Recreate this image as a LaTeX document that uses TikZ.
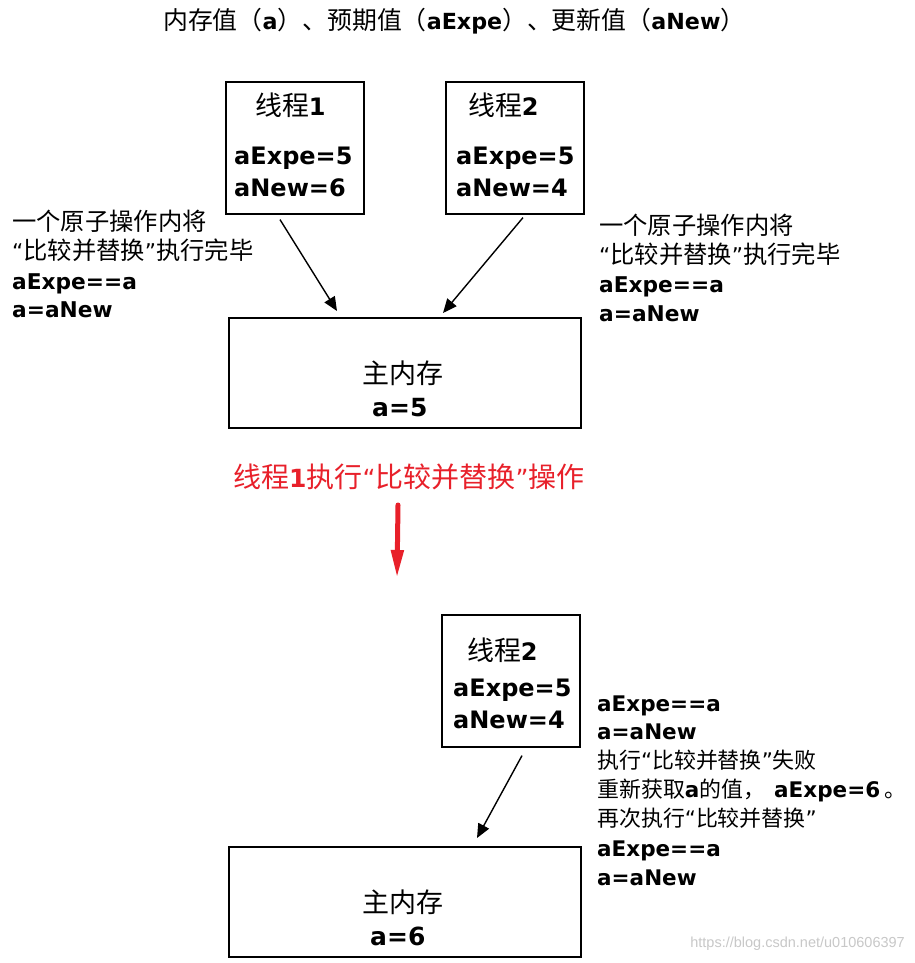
\documentclass[tikz,border=0pt]{standalone}
\usepackage{fontspec}
\setmainfont{DejaVu Sans}
\newfontfamily\cjk[Scale=1.12]{Noto Sans CJK SC}
\newfontfamily\cjkb[Scale=1.02]{Noto Sans CJK SC}
\newfontfamily\cjkc[Scale=1.08]{Noto Sans CJK SC}
\newfontfamily\wmfont{Liberation Sans}
\usetikzlibrary{arrows.meta,calc}
\newcommand\zh[1]{{\cjk #1}}
\newcommand\zhb[1]{{\cjkb #1}}
\definecolor{cred}{RGB}{232,32,42}
\definecolor{wmgray}{RGB}{200,200,200}
\begin{document}
\begin{tikzpicture}[x=1pt,y=-1pt,
  box/.style={draw, line width=1.6pt, inner sep=0pt, anchor=north west},
  lbl/.style={anchor=base west, inner sep=0pt, yshift=-8pt},
  side/.style={lbl, font=\fontsize{21.7}{26}\selectfont},
  sideb/.style={lbl, font=\fontsize{21.5}{26}\selectfont},
  inbox/.style={lbl, font=\fontsize{24}{28}\selectfont, yshift=-1pt},
  big/.style={lbl, font=\fontsize{25}{28}\selectfont, yshift=-1.5pt},
  arr/.style={-{Triangle[length=14pt,width=12pt]}, line width=1.4pt},
  redarr/.style={-{Triangle[length=28pt,width=12pt]}, line width=5pt, cred, line cap=round}
]
\useasboundingbox (0,0) rectangle (914,963);
\fill[white] (0,0) rectangle (914,963);

% title
\node[lbl, font=\fontsize{22.2}{26}\selectfont] (title) at (163,22) {\zh{内存值（}\textbf{a}\zh{）、预期值（}\textbf{aExpe}\zh{）、更新值（}\textbf{aNew}\zh{）}};

% thread boxes
\node[box, minimum width=138, minimum height=132] (t1) at (225,81) {};
\node[box, minimum width=138, minimum height=132] (t2) at (445,81) {};
\node[box, minimum width=352, minimum height=110] (m1) at (228,317) {};

\node[inbox] (t1a) at (255,107) {\zh{线程}\textbf{1}};
\node[inbox] (t1b) at (234,155) {\textbf{aExpe=5}};
\node[inbox] (t1c) at (234,187) {\textbf{aNew=6}};

\node[inbox] (t2a) at (468,107) {\zh{线程}\textbf{2}};
\node[inbox] (t2b) at (456,155) {\textbf{aExpe=5}};
\node[inbox] (t2c) at (456,187) {\textbf{aNew=4}};

\node[big] (m1a) at (362,374) {{\cjkc 主内存}};
\node[big] (m1b) at (372,407) {\textbf{a=5}};

% side notes upper
\node[side] (l1) at (12,222) {\zh{一个原子操作内将}};
\node[side] (l2) at (12,251) {“\zh{比较并替换}”\zh{执行完毕}};
\node[side] (l3) at (12,281) {\textbf{aExpe==a}};
\node[side] (l4) at (12,309) {\textbf{a=aNew}};

\node[side] (r1) at (599,226) {\zh{一个原子操作内将}};
\node[side] (r2) at (599,255) {“\zh{比较并替换}”\zh{执行完毕}};
\node[side] (r3) at (599,284) {\textbf{aExpe==a}};
\node[side] (r4) at (599,313) {\textbf{a=aNew}};

\draw[arr] ($(t1.south west)+(55,5)$) -- ($(m1.north west)+(109,-6)$);
\draw[arr] ($(t2.south west)+(78,3)$) -- ($(m1.north west)+(215,-4)$);

% red step
\node[big, text=cred] (step1) at (233,478) {\zh{线程}\textbf{1}\zh{执行}“\zh{比较并替换}”\zh{操作}};
\coordinate (ra) at (398,505);
\coordinate (rb) at (397,578);
\draw[redarr] (ra) -- (rb);

% lower part
\node[box, minimum width=138, minimum height=132] (t3) at (441,614) {};
\node[box, minimum width=352, minimum height=110] (m2) at (228,846) {};

\node[inbox] (t3a) at (467,651) {\zh{线程}\textbf{2}};
\node[inbox] (t3b) at (453,687) {\textbf{aExpe=5}};
\node[inbox] (t3c) at (453,719) {\textbf{aNew=4}};

\node[big] (m2a) at (362,903) {{\cjkc 主内存}};
\node[big] (m2b) at (370,936) {\textbf{a=6}};

\draw[arr] ($(t3.south west)+(81,8)$) -- ($(m2.north west)+(249,-8)$);

\node[sideb] (s1) at (597,703) {\textbf{aExpe==a}};
\node[sideb] (s2) at (597,731) {\textbf{a=aNew}};
\node[sideb] (s3) at (597,760) {\zhb{执行}“\zhb{比较并替换}”\zhb{失败}};
\node[sideb] (s4) at (597,789) {\zhb{重新获取}\textbf{a}\zhb{的值，}\hspace{9pt}\textbf{aExpe=6}\hspace{4pt}\zhb{。}};
\node[sideb] (s5) at (597,818) {\zhb{再次执行}“\zhb{比较并替换}”};
\node[sideb] (s6) at (597,848) {\textbf{aExpe==a}};
\node[sideb] (s7) at (597,877) {\textbf{a=aNew}};

% watermark
\node[anchor=east, inner sep=0pt, font=\wmfont\fontsize{14.5}{16}\selectfont, text=wmgray] (wm) at (905,944) {https://blog.csdn.net/u010606397};
\end{tikzpicture}
\end{document}
